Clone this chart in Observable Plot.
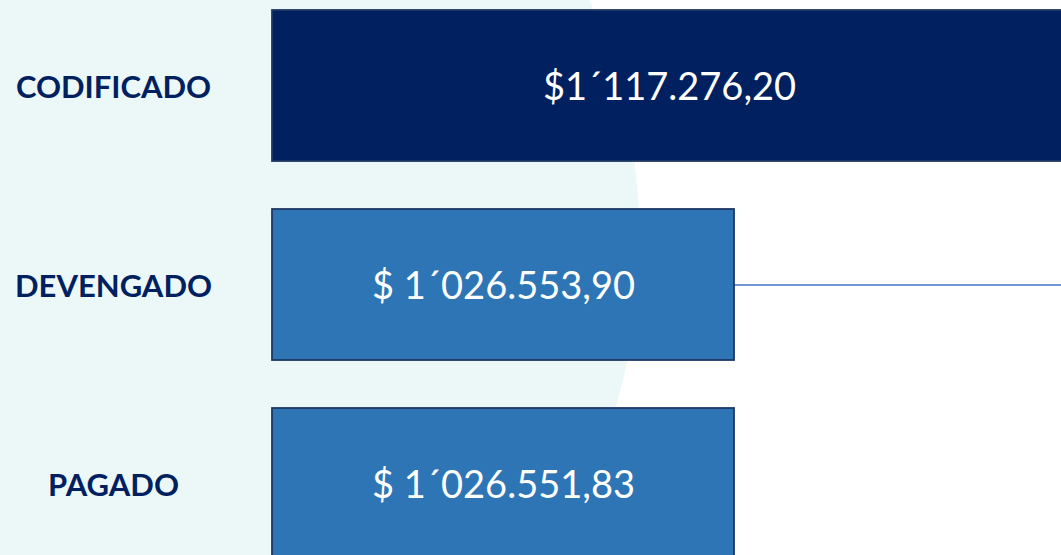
<!DOCTYPE html>
<html>
<head>
<meta charset="utf-8">
<script src="https://cdn.jsdelivr.net/npm/d3@7"></script>
<script src="https://cdn.jsdelivr.net/npm/@observablehq/plot@0.6"></script>
<style>
  html, body { margin: 0; padding: 0; overflow: hidden; background: #ffffff; }
  #chart { width: 1061px; height: 555px; }
</style>
</head>
<body>
<div id="chart"></div>
<script>
const categories = ["CODIFICADO", "DEVENGADO", "PAGADO"];
const values = [1117276.20, 1026553.90, 1026551.83];
const valueLabels = ["$1\u00B4117.276,20", "$ 1\u00B4026.553,90", "$ 1\u00B4026.551,83"];
const barColors = ["#002060", "#2E75B6", "#2E75B6"];

// scale setting: left edge of the value axis as drawn in the original
const xMin = 900300;

const data = categories.map((c, i) => ({
  cat: c, value: values[i], label: valueLabels[i], color: barColors[i]
}));

const chart = Plot.plot({
  width: 1061,
  height: 555,
  marginLeft: 272,
  marginRight: -5,
  marginTop: 0,
  marginBottom: 0,
  style: {
    background: "radial-gradient(circle 601px at 39px 240px, #ECF8F8 calc(100% - 1px), #ffffff 100%)",
    fontFamily: "Lato, 'Open Sans', sans-serif",
    overflow: "hidden"
  },
  x: { domain: [xMin, values[0]], axis: null },
  y: { domain: categories, range: [9, 560], paddingInner: 0.24, paddingOuter: 0, axis: null },
  marks: [
    Plot.ruleY(data.filter(d => d.cat === "DEVENGADO"), {
      y: "cat", x1: "value", x2: values[0], stroke: "#4472C4", strokeWidth: 1.5
    }),
    Plot.barX(data, {
      y: "cat", x1: xMin, x2: "value", fill: d => d.color,
      stroke: "#1F3864", strokeWidth: 1.8
    }),
    Plot.text(data, {
      y: "cat",
      x: d => d.cat === "CODIFICADO" ? (xMin + values[0]) / 2 : (xMin + d.value) / 2,
      text: "label", fill: "white", fontSize: 38, textAnchor: "middle", dy: 2
    }),
    Plot.axisY({
      anchor: "left", tickSize: 0, tickPadding: 159, textAnchor: "middle",
      fontSize: 31, fontWeight: "bold", color: "#002060", label: null, dy: 2
    })
  ]
});
document.getElementById("chart").appendChild(chart);
</script>
</body>
</html>
